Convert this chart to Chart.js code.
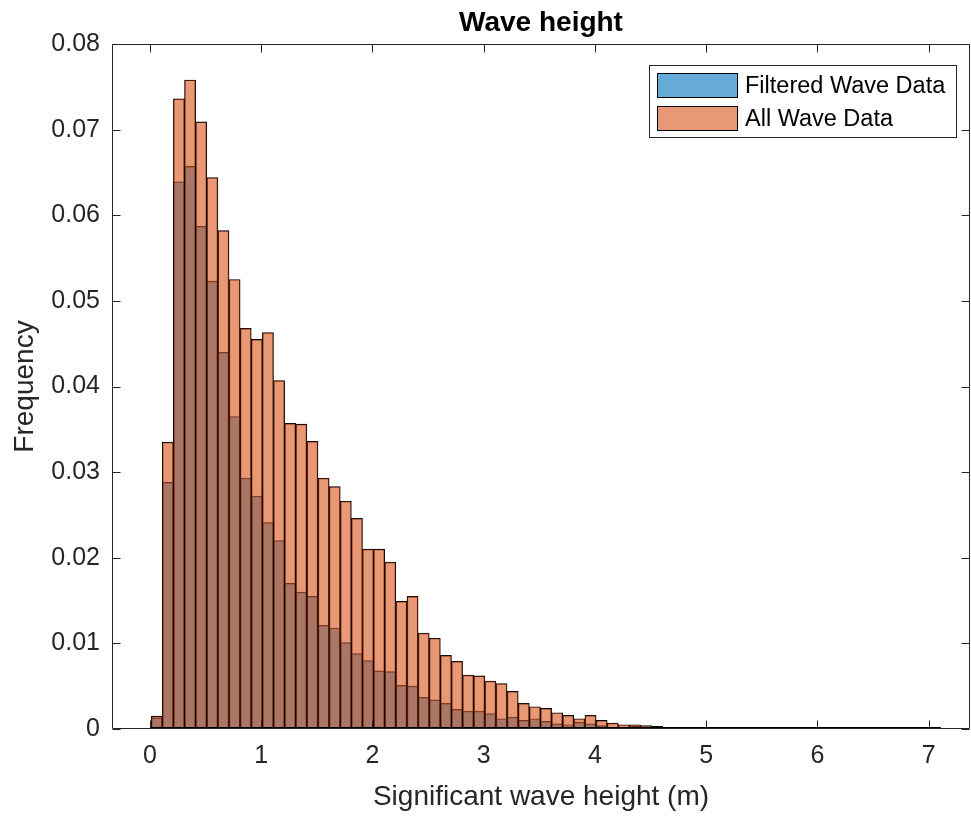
<!DOCTYPE html>
<html>
<head>
<meta charset="utf-8">
<title>Wave height</title>
<script src="https://cdn.jsdelivr.net/npm/chart.js@4.4.1/dist/chart.umd.min.js"></script>
<style>
    html, body { margin: 0; padding: 0; background: #fff; }
    #wrapWave { width: 971px; height: 816px; }
</style>
</head>
<body>
<div id="wrapWave"><canvas id="cWave" width="971" height="816"></canvas></div>
<script>
// ===== Histogram: significant wave height, normalised frequency =====
// bins are 0.1 m wide, first edge read off the picture at ~0.01 m
const binStart = 0.01;
const binWidth = 0.1;

const allWave = [
    0.0015, 0.0335, 0.0736, 0.0758, 0.0709, 0.0644, 0.0582, 0.0525, 0.0468, 0.0455,
    0.0463, 0.0407, 0.0357, 0.0356, 0.0336, 0.0293, 0.0283, 0.0266, 0.0246, 0.0210,
    0.0210, 0.0195, 0.0149, 0.0155, 0.0112, 0.0106, 0.0086, 0.0079, 0.0063, 0.0062,
    0.0056, 0.0053, 0.0044, 0.0030, 0.0026, 0.0024, 0.0019, 0.0016, 0.0012, 0.0016,
    0.0010, 0.0007, 0.0005, 0.0005, 0.0004, 0.0003, 0.0002, 0.0001, 0.00005, 0.0002,
    0.0001, 0.00005, 0.0001, 0.00003, 0.0001, 0.00003, 0.0001, 0.00003, 0.00002, 0.00005,
    0.00002, 0.00002, 0.00001, 0.00001, 0.00002, 0.00001, 0.00001, 0.00001, 0.00001, 0.00001,
    0.0001
];

const filteredWave = [
    0.0013, 0.0288, 0.0639, 0.0657, 0.0587, 0.0523, 0.0440, 0.0365, 0.0293, 0.0272,
    0.0241, 0.0220, 0.0170, 0.0160, 0.0155, 0.0121, 0.0118, 0.0101, 0.0088, 0.0080,
    0.0068, 0.0067, 0.0051, 0.0050, 0.0037, 0.0034, 0.0030, 0.0023, 0.0021, 0.0021,
    0.0018, 0.0012, 0.0014, 0.0010, 0.0012, 0.0009, 0.0006, 0.0005, 0.0008, 0.0006,
    0.0004, 0.0002, 0.0002, 0.0003, 0.0001, 0.0001, 0.0001, 0.00003, 0.00002, 0.00005,
    0.00003, 0.00002, 0.00003, 0.00001, 0.00003, 0.00001, 0.00003, 0.00001, 0.00001, 0.00002,
    0.00001, 0.00001, 0, 0, 0.00001, 0, 0, 0, 0, 0,
    0.00003
];

const xTicks = [0, 1, 2, 3, 4, 5, 6, 7];
const yTicks = [0, 0.01, 0.02, 0.03, 0.04, 0.05, 0.06, 0.07, 0.08];
const yTickLabels = ['0', '0.01', '0.02', '0.03', '0.04', '0.05', '0.06', '0.07', '0.08'];

const AXIS = '#262626';
const binCenters = allWave.map((_, i) => binStart + binWidth * (i + 0.5));
const toPoints = arr => arr.map((v, i) => ({ x: binCenters[i], y: v }));

Chart.defaults.font.family = '"Liberation Sans", Arial, Helvetica, sans-serif';
Chart.defaults.color = AXIS;

// MATLAB-like box: frame on all sides, ticks pointing inward
const axesBox = {
    id: 'axesBox',
    afterDatasetsDraw(chart) {
        const { ctx, chartArea: a, scales: { x, y } } = chart;
        const L = Math.round(a.left) + 0.5, R = Math.round(a.right) - 0.5;
        const T = Math.round(a.top) + 0.5, B = Math.round(a.bottom) - 0.5;
        const len = 8;
        ctx.save();
        ctx.strokeStyle = AXIS;
        ctx.lineWidth = 1;
        ctx.beginPath();
        ctx.rect(L, T, R - L, B - T);
        xTicks.forEach(v => {
            const px = Math.round(x.getPixelForValue(v)) + 0.5;
            ctx.moveTo(px, B); ctx.lineTo(px, B - len);
            ctx.moveTo(px, T); ctx.lineTo(px, T + len);
        });
        yTicks.forEach(v => {
            const py = Math.round(y.getPixelForValue(v)) + 0.5;
            ctx.moveTo(L, py); ctx.lineTo(L + len, py);
            ctx.moveTo(R, py); ctx.lineTo(R - len, py);
        });
        ctx.stroke();
        // histogram edges sitting on the baseline make it look heavier
        const x0 = x.getPixelForValue(binStart), x1 = x.getPixelForValue(binStart + binWidth * allWave.length);
        ctx.beginPath();
        ctx.strokeStyle = '#000';
        ctx.moveTo(x0, B - 1); ctx.lineTo(x1, B - 1);
        ctx.stroke();
        ctx.restore();
    }
};

// framed legend, top right, wide swatches
const boxLegend = {
    id: 'boxLegend',
    afterDraw(chart) {
        const { ctx } = chart;
        const ds = chart.data.datasets;
        const box = { x: 649.5, y: 65.5, w: 307, h: 72 };
        ctx.save();
        ctx.fillStyle = '#fff';
        ctx.fillRect(box.x, box.y, box.w, box.h);
        ctx.strokeStyle = AXIS;
        ctx.lineWidth = 1;
        ctx.strokeRect(box.x, box.y, box.w, box.h);
        ds.forEach((d, i) => {
            const sy = 73.5 + i * 33;
            ctx.fillStyle = '#fff';
            ctx.fillRect(657.5, sy, 80, 24);
            ctx.fillStyle = d.backgroundColor;
            ctx.fillRect(657.5, sy, 80, 24);
            ctx.strokeStyle = '#000';
            ctx.strokeRect(657.5, sy, 80, 24);
            ctx.fillStyle = '#000';
            ctx.font = '23.5px ' + Chart.defaults.font.family;
            ctx.textBaseline = 'middle';
            ctx.textAlign = 'left';
            ctx.fillText(d.label, 745, sy + 13);
        });
        ctx.restore();
    }
};

const barCommon = {
    borderColor: '#000',
    borderWidth: 0.8,
    borderSkipped: 'start',
    barPercentage: 1,
    categoryPercentage: 1,
    grouped: false
};

new Chart(document.getElementById('cWave').getContext('2d'), {
    type: 'bar',
    data: {
        datasets: [
            { ...barCommon, label: 'Filtered Wave Data', data: toPoints(filteredWave), backgroundColor: 'rgba(0,114,189,0.6)', order: 2 },
            { ...barCommon, label: 'All Wave Data', data: toPoints(allWave), backgroundColor: 'rgba(217,83,25,0.6)', order: 1 }
        ]
    },
    options: {
        responsive: false,
        animation: false,
        devicePixelRatio: 1,
        layout: { padding: { top: 0, right: 1, bottom: 0, left: 0 } },
        scales: {
            x: {
                type: 'linear', min: -0.342, max: 7.372, offset: false,
                grid: { display: false, drawTicks: false, offset: false }, border: { display: false },
                afterBuildTicks: s => { s.ticks = xTicks.map(v => ({ value: v })); },
                afterFit: s => { s.height = 87; },
                ticks: { padding: 12, font: { size: 25 }, color: AXIS, maxRotation: 0, callback: v => String(v) },
                title: { display: true, text: 'Significant wave height (m)', font: { size: 28 }, color: AXIS, padding: { top: 0, bottom: 2 } }
            },
            y: {
                min: 0, max: 0.08,
                grid: { display: false, drawTicks: false }, border: { display: false },
                afterBuildTicks: s => { s.ticks = yTicks.map(v => ({ value: v })); },
                afterFit: s => { s.width = 112; },
                ticks: { padding: 12, font: { size: 25 }, color: AXIS, callback: (v, i) => yTickLabels[i] },
                title: { display: true, text: 'Frequency', font: { size: 28 }, color: AXIS, padding: { top: 8, bottom: 0 } }
            }
        },
        plugins: {
            legend: { display: false },
            tooltip: { enabled: false },
            title: { display: true, fullSize: false, text: 'Wave height', color: '#000', font: { size: 28, weight: 'bold', lineHeight: 1 }, padding: { top: 9, bottom: 7 } }
        }
    },
    plugins: [axesBox, boxLegend]
});
</script>
</body>
</html>
